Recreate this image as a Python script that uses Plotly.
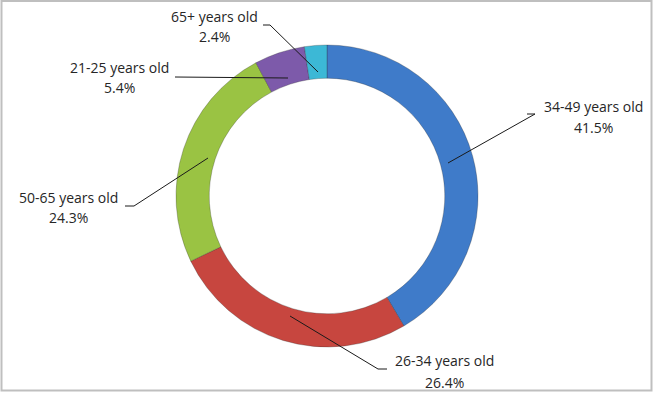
import plotly.graph_objects as go

# ---- data ----
labels = ["34-49 years old", "26-34 years old", "50-65 years old", "21-25 years old", "65+ years old"]
values = [41.5, 26.4, 24.3, 5.4, 2.4]
colors = ["#3F7BC9", "#C7463F", "#9AC343", "#7D5AAA", "#3CB8D6"]

W, H = 654, 393

# label text centres (pixels): (x, y of name line, y of percent line)
label_pos = [(593, 106, 127), (444, 360, 382), (68, 197, 218), (119, 67, 87), (214, 16, 36)]
# leader line paths (pixels)
leaders = [
    [(527, 114), (535, 114), (448, 163)],
    [(387, 369), (378, 369), (290, 316)],
    [(125, 206), (134, 206), (208, 158)],
    [(175, 77), (288, 78)],
    [(263, 25), (270, 25), (318, 72)],
]

def px(x, y):
    return x / W, 1 - y / H

fig = go.Figure(go.Pie(
    labels=labels,
    values=values,
    sort=False,
    direction="clockwise",
    rotation=0,
    hole=0.78,
    marker=dict(colors=colors, line=dict(color="rgba(40,40,40,0.4)", width=0.7)),
    textinfo="none",
    hoverinfo="label+percent",
    domain=dict(x=[0.2, 0.8], y=[1 - 347 / H, 1 - 45 / H]),
    showlegend=False,
))

annotations = []
font = dict(family="Open Sans", size=14, color="#262626")
for lab, val, (cx, y1, y2) in zip(labels, values, label_pos):
    x, ya = px(cx, y1)
    _, yb = px(cx, y2)
    annotations.append(dict(x=x, y=ya, xref="paper", yref="paper", text=lab, showarrow=False,
                            xanchor="center", yanchor="middle", font=font))
    annotations.append(dict(x=x, y=yb, xref="paper", yref="paper", text=f"{val}%", showarrow=False,
                            xanchor="center", yanchor="middle", font=font))

shapes = []
for pts in leaders:
    path = ""
    for i, (a, b) in enumerate(pts):
        xx, yy = px(a, b)
        path += ("M" if i == 0 else " L") + f"{xx},{yy}"
    shapes.append(dict(type="path", path=path, xref="paper", yref="paper",
                       line=dict(color="#1a1a1a", width=1)))

shapes.append(dict(type="rect", xref="paper", yref="paper",
                   x0=1.5 / W, x1=1 - 2.5 / W, y0=2.5 / H, y1=1 - 1 / H,
                   line=dict(color="#BFBFBF", width=2)))

fig.update_layout(
    width=W, height=H,
    margin=dict(l=0, r=0, t=0, b=0),
    paper_bgcolor="white",
    plot_bgcolor="white",
    annotations=annotations,
    shapes=shapes,
)

fig.write_html("out.html")
